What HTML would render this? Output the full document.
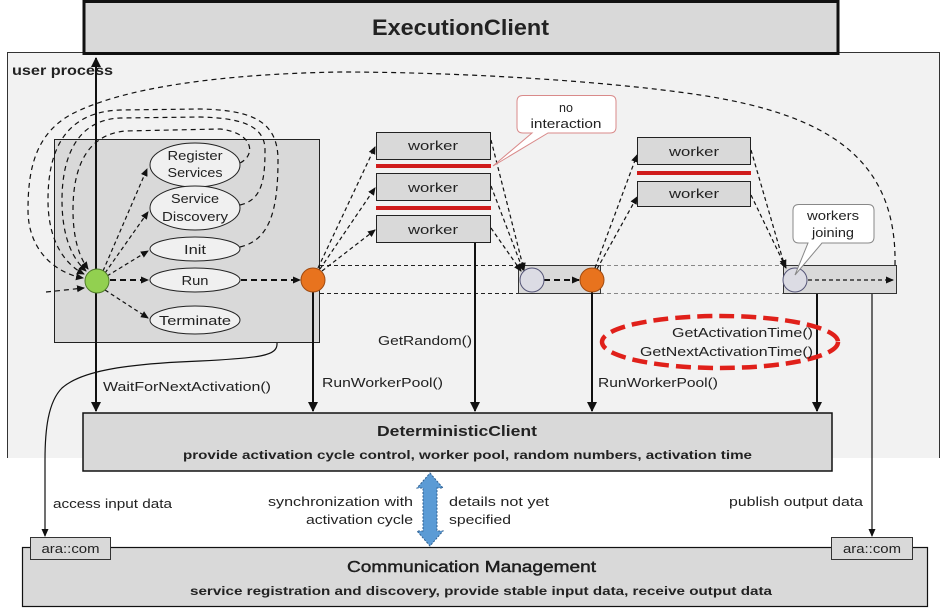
<!DOCTYPE html>
<html><head><meta charset="utf-8">
<style>
html,body{margin:0;padding:0;background:#fff;}
svg{display:block;}
text{font-family:"Liberation Sans",Arial,sans-serif;fill:#222;}
</style></head>
<body>
<svg width="948" height="614" viewBox="0 0 948 614" xmlns="http://www.w3.org/2000/svg">
<defs>
<marker id="a" markerWidth="8" markerHeight="8" refX="7" refY="4" orient="auto" markerUnits="userSpaceOnUse"><path d="M0,0.5 L8,4 L0,7.5 Z" fill="#111"/></marker>
<marker id="b" markerWidth="10" markerHeight="10" refX="9" refY="5" orient="auto" markerUnits="userSpaceOnUse"><path d="M0,0 L10,5 L0,10 Z" fill="#111"/></marker>
<marker id="bs" markerWidth="10" markerHeight="10" refX="1" refY="5" orient="auto" markerUnits="userSpaceOnUse"><path d="M10,0 L0,5 L10,10 Z" fill="#111"/></marker>
</defs>

<!-- user process -->
<rect x="7" y="52" width="933" height="406" fill="#f2f2f2"/>
<line x1="7.5" y1="52" x2="7.5" y2="458" stroke="#333" stroke-width="1"/>
<line x1="7" y1="52.5" x2="940" y2="52.5" stroke="#333" stroke-width="1"/>
<line x1="939.5" y1="52" x2="939.5" y2="458" stroke="#333" stroke-width="1"/>
<text x="12" y="75" font-size="14" font-weight="bold" textLength="101" lengthAdjust="spacingAndGlyphs">user process</text>

<!-- ExecutionClient -->
<rect x="84" y="1.5" width="754" height="52" fill="#d9d9d9" stroke="#111" stroke-width="3"/>
<text x="372" y="35" font-size="22" font-weight="bold" textLength="177" lengthAdjust="spacingAndGlyphs">ExecutionClient</text>

<!-- lifecycle box -->
<rect x="54.5" y="139.5" width="265" height="203" fill="#d9d9d9" stroke="#222" stroke-width="1"/>

<!-- loops -->
<g fill="none" stroke="#111" stroke-width="1.2" stroke-dasharray="5 4">
<path d="M895,265 C897,160 830,115 700,95 C600,80 450,72 340,72 C220,74 120,88 70,115 C35,135 28,170 28,210 C28,250 55,273 83,278" marker-end="url(#a)"/>
<path d="M240,247 C270,240 278,210 278,160 C278,120 250,110 200,109 L120,110 C65,112 48,150 48,200 C48,245 68,266 84,274" marker-end="url(#a)"/>
<path d="M240,205 C262,200 265,180 265,150 C265,125 240,118 200,117 L120,118 C75,120 62,160 62,200 C62,240 74,260 86,271" marker-end="url(#a)"/>
<path d="M240,163 C256,155 254,133 220,129 L125,131 C85,135 73,170 73,210 C73,240 80,258 88,269" marker-end="url(#a)"/>
<path d="M46,292 L84,288" marker-end="url(#a)"/>
</g>

<!-- band dashed lines -->
<g stroke="#222" stroke-width="1" stroke-dasharray="4 3">
<line x1="320" y1="265.5" x2="518" y2="265.5"/>
<line x1="320" y1="293.5" x2="518" y2="293.5"/>
</g>
<g stroke="#888" stroke-width="1" stroke-dasharray="4 3">
<line x1="600" y1="265.5" x2="783" y2="265.5"/>
<line x1="600" y1="293.5" x2="783" y2="293.5"/>
</g>
<rect x="518.5" y="265.5" width="82" height="28" fill="#d9d9d9" stroke="#333" stroke-width="1"/>
<rect x="783.5" y="265.5" width="113" height="28" fill="#d9d9d9" stroke="#333" stroke-width="1"/>

<!-- vertical solid lines -->
<g stroke="#111" stroke-width="2" fill="none">
<line x1="96" y1="58" x2="96" y2="411" marker-start="url(#bs)" marker-end="url(#b)"/>
<line x1="313" y1="292" x2="313" y2="411" marker-end="url(#b)"/>
<line x1="475" y1="242" x2="475" y2="411" marker-end="url(#b)"/>
<line x1="592" y1="292" x2="592" y2="411" marker-end="url(#b)"/>
<line x1="817" y1="294" x2="817" y2="411" marker-end="url(#b)"/>
</g>
<g stroke="#111" stroke-width="1.2" fill="none">
<line x1="872" y1="294" x2="872" y2="536" marker-end="url(#a)"/>
<path d="M277,343 C278,356 260,358 200,361 C120,364 80,372 62,388 C48,402 45,430 45,460 L45,536" marker-end="url(#a)"/>
</g>

<!-- ellipses -->
<g fill="#f0f0f0" stroke="#222" stroke-width="1">
<ellipse cx="195" cy="165" rx="45" ry="22"/>
<ellipse cx="195" cy="208" rx="45" ry="22"/>
<ellipse cx="195" cy="249" rx="45" ry="12"/>
<ellipse cx="195" cy="280" rx="45" ry="12"/>
<ellipse cx="195" cy="320" rx="45" ry="14"/>
</g>
<g font-size="13" text-anchor="middle" fill="#333">
<text x="195" y="160" textLength="55" lengthAdjust="spacingAndGlyphs">Register</text>
<text x="195" y="177" textLength="55" lengthAdjust="spacingAndGlyphs">Services</text>
<text x="195" y="203" textLength="48" lengthAdjust="spacingAndGlyphs">Service</text>
<text x="195" y="221" textLength="66" lengthAdjust="spacingAndGlyphs">Discovery</text>
<text x="195" y="254" textLength="22" lengthAdjust="spacingAndGlyphs">Init</text>
<text x="195" y="285" textLength="27" lengthAdjust="spacingAndGlyphs">Run</text>
<text x="195" y="325" textLength="72" lengthAdjust="spacingAndGlyphs">Terminate</text>
</g>

<!-- dashed arrows from green -->
<g fill="none" stroke="#111" stroke-width="1.2" stroke-dasharray="4 3">
<path d="M103,271 L147,169" marker-end="url(#a)"/>
<path d="M105,273 L148,212" marker-end="url(#a)"/>
<path d="M107,276 L148,251" marker-end="url(#a)"/>
<path d="M105,290 L148,318" marker-end="url(#a)"/>
<!-- orange1 -> workers -->
<path d="M318,268 L375,147" marker-end="url(#a)"/>
<path d="M320,269 L375,188" marker-end="url(#a)"/>
<path d="M322,271 L375,230" marker-end="url(#a)"/>
<!-- workers -> lavender1 -->
<path d="M491,140 L524,270" marker-end="url(#a)"/>
<path d="M491,186 L523,270" marker-end="url(#a)"/>
<path d="M491,228 L521,271" marker-end="url(#a)"/>
<!-- orange2 -> col2 -->
<path d="M595,268 L637,155" marker-end="url(#a)"/>
<path d="M597,269 L637,197" marker-end="url(#a)"/>
<!-- col2 -> lavender2 -->
<path d="M751,150 L785,267" marker-end="url(#a)"/>
<path d="M751,195 L786,268" marker-end="url(#a)"/>
<path d="M808,280 L893,280" marker-end="url(#a)"/>
</g>
<g fill="none" stroke="#111" stroke-width="2" stroke-dasharray="6 4">
<path d="M110,280 L148,280" marker-end="url(#a)"/>
<path d="M241,280 L300,280" marker-end="url(#a)"/>
<path d="M544,280 L579,280" marker-end="url(#a)"/>
</g>

<!-- circles -->
<circle cx="97" cy="281" r="12" fill="#92d050" stroke="#4f7a2a" stroke-width="1"/>
<circle cx="313" cy="280" r="12" fill="#e8731e" stroke="#a04a10" stroke-width="1"/>
<circle cx="532" cy="280" r="12" fill="#dcdce4" stroke="#555577" stroke-width="1"/>
<circle cx="592" cy="280" r="12" fill="#e8731e" stroke="#a04a10" stroke-width="1"/>
<circle cx="795" cy="280" r="12" fill="#dcdce4" stroke="#555577" stroke-width="1"/>

<!-- workers col1 -->
<g fill="#d9d9d9" stroke="#222" stroke-width="1">
<rect x="376.5" y="132.5" width="114" height="27"/>
<rect x="376.5" y="173.5" width="114" height="27"/>
<rect x="376.5" y="215.5" width="114" height="27"/>
<rect x="637.5" y="137.5" width="113" height="27"/>
<rect x="637.5" y="181.5" width="113" height="25"/>
</g>
<g fill="#d01c1c">
<rect x="376" y="164" width="115" height="4"/>
<rect x="376" y="206" width="115" height="4"/>
<rect x="637" y="171" width="114" height="4"/>
</g>
<g font-size="13" text-anchor="middle" fill="#333">
<text x="433" y="150" textLength="50" lengthAdjust="spacingAndGlyphs">worker</text>
<text x="433" y="192" textLength="50" lengthAdjust="spacingAndGlyphs">worker</text>
<text x="433" y="234" textLength="50" lengthAdjust="spacingAndGlyphs">worker</text>
<text x="694" y="156" textLength="50" lengthAdjust="spacingAndGlyphs">worker</text>
<text x="694" y="198" textLength="50" lengthAdjust="spacingAndGlyphs">worker</text>
</g>

<!-- callouts -->
<path d="M523,95.5 L610,95.5 Q616,95.5 616,101.5 L616,127 Q616,133 610,133 L548,133 L493,166 L532,133 L523,133 Q517,133 517,127 L517,101.5 Q517,95.5 523,95.5 Z" fill="#fff" stroke="#d98a8a" stroke-width="1"/>
<text x="566" y="112" font-size="12.5" text-anchor="middle" fill="#333">no</text>
<text x="566" y="128" font-size="12.5" text-anchor="middle" fill="#333" textLength="71" lengthAdjust="spacingAndGlyphs">interaction</text>
<path d="M799,204.5 L868,204.5 Q874,204.5 874,210.5 L874,237 Q874,243 868,243 L822,243 L795,275 L808,243 L799,243 Q793,243 793,237 L793,210.5 Q793,204.5 799,204.5 Z" fill="#fff" stroke="#888" stroke-width="1"/>
<text x="833" y="220" font-size="12.5" text-anchor="middle" fill="#333" textLength="52" lengthAdjust="spacingAndGlyphs">workers</text>
<text x="833" y="237" font-size="12.5" text-anchor="middle" fill="#333" textLength="42" lengthAdjust="spacingAndGlyphs">joining</text>

<!-- red dashed ellipse -->
<ellipse cx="720" cy="342" rx="118" ry="26" fill="none" stroke="#e0201a" stroke-width="4.5" stroke-dasharray="15 7"/>
<g font-size="13" fill="#333">
<text x="672" y="337" textLength="141" lengthAdjust="spacingAndGlyphs">GetActivationTime()</text>
<text x="640" y="356" textLength="173" lengthAdjust="spacingAndGlyphs">GetNextActivationTime()</text>
<text x="378" y="345" textLength="94" lengthAdjust="spacingAndGlyphs">GetRandom()</text>
<text x="322" y="387" textLength="121" lengthAdjust="spacingAndGlyphs">RunWorkerPool()</text>
<text x="598" y="387" textLength="120" lengthAdjust="spacingAndGlyphs">RunWorkerPool()</text>
<text x="103" y="391" textLength="168" lengthAdjust="spacingAndGlyphs">WaitForNextActivation()</text>
</g>

<!-- DeterministicClient -->
<rect x="83" y="413" width="749" height="58" fill="#d9d9d9" stroke="#111" stroke-width="1.5"/>
<text x="377" y="436" font-size="15" font-weight="bold" textLength="160" lengthAdjust="spacingAndGlyphs">DeterministicClient</text>
<text x="183" y="459" font-size="12" font-weight="bold" textLength="569" lengthAdjust="spacingAndGlyphs">provide activation cycle control, worker pool, random numbers, activation time</text>

<!-- blue arrow -->
<path d="M430,473 L443,488 L437,488 L437,531 L443,531 L430,546 L417,531 L423,531 L423,488 L417,488 Z" fill="#5b9bd5" stroke="#2f5f8f" stroke-width="1" stroke-dasharray="2 1.5"/>
<g font-size="13" fill="#5b82ad">
<text x="413" y="506" text-anchor="end" textLength="145" lengthAdjust="spacingAndGlyphs">synchronization with</text>
<text x="413" y="524" text-anchor="end" textLength="107" lengthAdjust="spacingAndGlyphs">activation cycle</text>
<text x="449" y="506" textLength="100" lengthAdjust="spacingAndGlyphs">details not yet</text>
<text x="449" y="524" textLength="62" lengthAdjust="spacingAndGlyphs">specified</text>
</g>
<g font-size="13" fill="#333">
<text x="53" y="508" textLength="119" lengthAdjust="spacingAndGlyphs">access input data</text>
<text x="729" y="506" textLength="134" lengthAdjust="spacingAndGlyphs">publish output data</text>
</g>

<!-- Communication Management -->
<rect x="22.5" y="547.5" width="905" height="59" fill="#d9d9d9" stroke="#111" stroke-width="1.2"/>
<rect x="30.5" y="537.5" width="80" height="22" fill="#d9d9d9" stroke="#333" stroke-width="1"/>
<rect x="831.5" y="537.5" width="81" height="22" fill="#d9d9d9" stroke="#333" stroke-width="1"/>
<text x="70.5" y="553" font-size="12.5" text-anchor="middle" fill="#333" textLength="58" lengthAdjust="spacingAndGlyphs">ara::com</text>
<text x="872" y="553" font-size="12.5" text-anchor="middle" fill="#333" textLength="58" lengthAdjust="spacingAndGlyphs">ara::com</text>
<text x="347" y="572" font-size="16" fill="#111" stroke="#111" stroke-width="0.4" textLength="249" lengthAdjust="spacingAndGlyphs">Communication Management</text>
<text x="190" y="595" font-size="11.5" font-weight="bold" textLength="582" lengthAdjust="spacingAndGlyphs">service registration and discovery, provide stable input data, receive output data</text>
</svg>
</body></html>
